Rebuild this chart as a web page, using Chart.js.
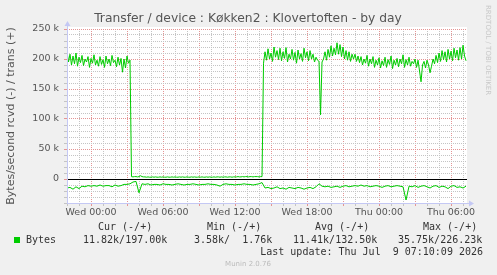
<!DOCTYPE html>
<html>
<head>
<meta charset="utf-8">
<title>Transfer / device : Køkken2 : Klovertoften - by day</title>
<script src="https://cdn.jsdelivr.net/npm/chart.js@4.4.1/dist/chart.umd.min.js"></script>
<style>
  html, body { margin: 0; padding: 0; background: #f0f0f0; }
  #wrap { width: 497px; height: 275px; }
</style>
</head>
<body>
<div id="wrap"><canvas id="munin" width="497" height="275"></canvas></div>
<script>
const chartTitle = 'Transfer / device : Køkken2 : Klovertoften - by day';
const yAxisTitle = 'Bytes/second rcvd (-) / trans (+)';

// hours counted from Wed 00:00
const firstSampleHour = -2;
const transStepHours = 0.125; // 7.5 min
const rcvdStepHours = 0.25;   // 15 min

// trans (+) in k bytes/s
const transK = [
  212, 195, 208, 190, 205, 192, 210, 188, 203, 194, 206, 189, 200, 195, 204, 186, 201, 193, 207, 190,
  198, 188, 204, 191, 199, 186, 205, 192, 200, 189, 206, 194, 198, 187, 203, 190, 201, 178, 200, 185,
  205, 193, 198,
  4, 3.5, 4, 4, 3.5, 4, 5.5, 4, 3.5, 3.5,
  3, 3.5, 3, 3, 3.5, 3, 3.5, 3, 3, 3.5,
  3, 3.5, 3, 3, 3.5, 3, 3, 3.5, 3, 3.5,
  3, 3, 3.5, 3, 3.5, 3, 3, 3.5, 3, 3,
  3.5, 3, 3.5, 3, 3, 3.5, 3, 3.5, 3, 3,
  3.5, 3, 3.5, 3, 3, 3.5, 3, 3.5, 3.5, 3,
  3.5, 3, 3.5, 3.5, 3, 3.5, 3.5, 3, 3.5, 3.5,
  3.5, 4, 3.5, 3.5, 4, 3.5, 4, 4, 3.5, 4,
  4, 3.5, 4, 4, 4, 3.5, 4, 4,
  193, 212, 198, 217, 200, 210, 196, 220, 203, 214,
  199, 218, 197, 212, 201, 219, 195, 208, 200, 216,
  198, 211, 193, 215, 200, 209, 196, 218, 202, 212,
  197, 214, 200, 208, 195, 203, 198, 196, 107, 195,
  200, 212, 198, 216, 203, 222, 205, 218, 207, 227,
  208, 224, 204, 220, 200, 214, 198, 212, 196, 208,
  200, 208, 196, 205, 194, 204, 190, 200, 193, 206,
  188, 200, 192, 204, 186, 198, 190, 202, 185, 197,
  189, 203, 186, 199, 191, 205, 184, 198, 190, 201,
  187, 200, 192, 207, 186, 199, 190, 203, 188, 196,
  192, 200, 186, 198, 180, 162, 190, 196, 185, 198,
  190, 177, 188, 200, 192, 206, 194, 210, 196, 214,
  199, 212, 195, 216, 200, 213, 197, 218, 202, 215,
  198, 219, 200, 223, 205, 197
];

// rcvd (-) in k bytes/s, drawn below zero
const rcvdK = [
  -15, -14, -17, -13, -16, -12, -13, -11, -12, -11, -12, -10, -12, -11, -11, -13, -10, -12, -11, -9, -9, -8,
  -5, -4, -23, -8, -9, -8, -10, -9, -9, -10, -8, -9, -9, -10, -9, -8, -9, -10, -9, -9,
  -8, -9, -10, -9, -9, -8, -9, -9, -10, -12, -9, -8, -9, -9, -10, -9, -9, -8, -9, -9, -10, -9, -8, -6,
  -15, -14, -16, -15, -13, -16, -15, -17, -14, -15, -16, -14, -15, -17, -15, -14, -16, -13, -8, -12,
  -13, -12, -14, -13, -12, -14, -12, -11, -13, -12, -11, -12, -10, -12, -11, -13, -12, -11, -12, -14,
  -12, -11, -13, -12, -11, -12, -13, -35, -12, -13, -11, -14, -12, -11, -13, -15, -12, -11, -14, -12,
  -13, -16, -12, -11, -14, -13, -15, -12
];

const xTickHours = [0, 6, 12, 18, 24, 30];
const xTickLabels = ['Wed 00:00', 'Wed 06:00', 'Wed 12:00', 'Wed 18:00', 'Thu 00:00', 'Thu 06:00'];
const yTickValues = [0, 50000, 100000, 150000, 200000, 250000];
const yTickLabels = ['0', '50 k', '100 k', '150 k', '200 k', '250 k'];

const seriesName = 'Bytes';
const legendHeaders = ['Cur (-/+)', 'Min (-/+)', 'Avg (-/+)', 'Max (-/+)'];
const legendValues = ['11.82k/197.00k', '3.58k/  1.76k', '11.41k/132.50k', '35.75k/226.23k'];
const lastUpdate = 'Last update: Thu Jul  9 07:10:09 2026';
const footerText = 'Munin 2.0.76';
const sideText = 'RRDTOOL / TOBI OETIKER';

const green = '#00cc00';
const majorGrid = '#e49494';
const minorGrid = '#c4c4c4';
const axisBlue = '#c4c8f4';

// one gridline per hour, one per 10k
const hourLines = [];
for (let h = -2; h <= 31; h++) hourLines.push(h);
const valueLines = [];
for (let v = -40000; v <= 250000; v += 10000) valueLines.push(v);

const muninDeco = {
  id: 'muninDeco',
  beforeDraw(chart) {
    const { ctx, chartArea: a } = chart;
    ctx.save();
    ctx.fillStyle = '#f0f0f0';
    ctx.fillRect(0, 0, chart.width, chart.height);
    ctx.fillStyle = '#ffffff';
    ctx.fillRect(a.left, a.top - 2, a.right - a.left, a.bottom - a.top + 2);
    ctx.restore();
  },
  beforeDatasetsDraw(chart) {
    const { ctx, chartArea: a, scales } = chart;
    const y0 = Math.round(scales.y.getPixelForValue(0)) + 0.5;
    ctx.save();
    ctx.strokeStyle = '#000';
    ctx.lineWidth = 1;
    ctx.beginPath();
    ctx.moveTo(a.left, y0);
    ctx.lineTo(a.right, y0);
    ctx.stroke();
    ctx.restore();
  },
  afterDraw(chart) {
    const { ctx, chartArea: a } = chart;
    ctx.save();

    // axes with arrows
    ctx.strokeStyle = axisBlue;
    ctx.fillStyle = axisBlue;
    ctx.lineWidth = 1;
    ctx.beginPath();
    ctx.moveTo(a.left + 0.5, a.bottom + 0.5);
    ctx.lineTo(a.left + 0.5, a.top - 4);
    ctx.moveTo(a.left, a.bottom + 0.5);
    ctx.lineTo(a.right + 3, a.bottom + 0.5);
    ctx.stroke();
    ctx.beginPath();
    ctx.moveTo(a.left - 2.5, a.top - 3);
    ctx.lineTo(a.left + 3.5, a.top - 3);
    ctx.lineTo(a.left + 0.5, a.top - 8);
    ctx.fill();
    ctx.beginPath();
    ctx.moveTo(a.right + 2, a.bottom - 2.5);
    ctx.lineTo(a.right + 2, a.bottom + 3.5);
    ctx.lineTo(a.right + 7, a.bottom + 0.5);
    ctx.fill();

    // title
    ctx.fillStyle = '#555';
    ctx.font = '12.3px "DejaVu Sans"';
    ctx.textAlign = 'center';
    ctx.textBaseline = 'middle';
    ctx.fillText(chartTitle, 248, 19);

    // rrdtool credit on the right edge
    ctx.save();
    ctx.translate(488, 5);
    ctx.rotate(Math.PI / 2);
    ctx.fillStyle = '#c8c8c8';
    ctx.font = '7px "DejaVu Sans"';
    ctx.textAlign = 'left';
    ctx.textBaseline = 'middle';
    ctx.fillText(sideText, 0, 0);
    ctx.restore();

    // legend
    ctx.font = '10px "DejaVu Sans Mono"';
    ctx.fillStyle = '#333';
    ctx.textAlign = 'left';
    ctx.textBaseline = 'middle';
    const headerX = [98, 207, 315, 423];
    const valueX = [83, 194, 293, 398];
    legendHeaders.forEach((t, i) => ctx.fillText(t, headerX[i], 227));
    legendValues.forEach((t, i) => ctx.fillText(t, valueX[i], 240));
    ctx.fillText(seriesName, 26, 240);
    ctx.textAlign = 'right';
    ctx.fillText(lastUpdate, 483, 252);
    ctx.fillStyle = green;
    ctx.fillRect(14, 237, 6, 6);

    ctx.fillStyle = '#bbbbbb';
    ctx.font = '7px "DejaVu Sans"';
    ctx.textAlign = 'center';
    ctx.fillText(footerText, 248, 264);
    ctx.restore();
  }
};

const gridColor = (step) => (c) => (c.tick && c.tick.value % step === 0 ? majorGrid : minorGrid);

new Chart(document.getElementById('munin'), {
  type: 'line',
  data: {
    datasets: [
      {
        label: 'trans',
        data: transK.map((v, i) => ({ x: firstSampleHour + i * transStepHours, y: v * 1000 })),
        borderColor: green,
        borderWidth: 1,
        pointRadius: 0,
        tension: 0,
        fill: false
      },
      {
        label: 'rcvd',
        data: rcvdK.map((v, i) => ({ x: firstSampleHour + i * rcvdStepHours, y: v * 1000 })),
        borderColor: green,
        borderWidth: 1,
        pointRadius: 0,
        tension: 0,
        fill: false
      }
    ]
  },
  options: {
    responsive: false,
    animation: false,
    devicePixelRatio: 1,
    layout: { padding: { top: 29, right: 30, left: 0, bottom: 0 } },
    plugins: {
      legend: { display: false },
      title: { display: false },
      tooltip: { enabled: false }
    },
    scales: {
      x: {
        type: 'linear',
        min: -2,
        max: 31.33,
        afterBuildTicks: (axis) => { axis.ticks = hourLines.map(v => ({ value: v })); },
        afterFit: (axis) => { axis.height = 72; },
        grid: {
          color: gridColor(3),
          tickColor: gridColor(3),
          lineWidth: 1,
          drawTicks: true,
          tickLength: 3,
          tickBorderDash: []
        },
        border: { display: false, dash: [1, 1] },
        ticks: {
          autoSkip: false,
          maxRotation: 0,
          padding: 1,
          color: '#555',
          font: { family: 'DejaVu Sans', size: 9.5 },
          callback: (v) => {
            const i = xTickHours.indexOf(v);
            return i < 0 ? '' : xTickLabels[i];
          }
        }
      },
      y: {
        type: 'linear',
        min: -40000,
        max: 250000,
        afterBuildTicks: (axis) => { axis.ticks = valueLines.map(v => ({ value: v })); },
        afterFit: (axis) => { axis.width = 67; },
        grid: {
          color: gridColor(50000),
          tickColor: gridColor(50000),
          lineWidth: 1,
          drawTicks: true,
          tickLength: 3,
          tickBorderDash: []
        },
        border: { display: false, dash: [1, 1] },
        title: {
          display: true,
          text: yAxisTitle,
          color: '#555',
          font: { family: 'DejaVu Sans', size: 11 },
          padding: { top: 5, bottom: 0 }
        },
        ticks: {
          autoSkip: false,
          padding: 5,
          color: '#555',
          font: { family: 'DejaVu Sans', size: 9.5 },
          callback: (v) => {
            const i = yTickValues.indexOf(v);
            return i < 0 ? '' : yTickLabels[i];
          }
        }
      }
    }
  },
  plugins: [muninDeco]
});
</script>
</body>
</html>
